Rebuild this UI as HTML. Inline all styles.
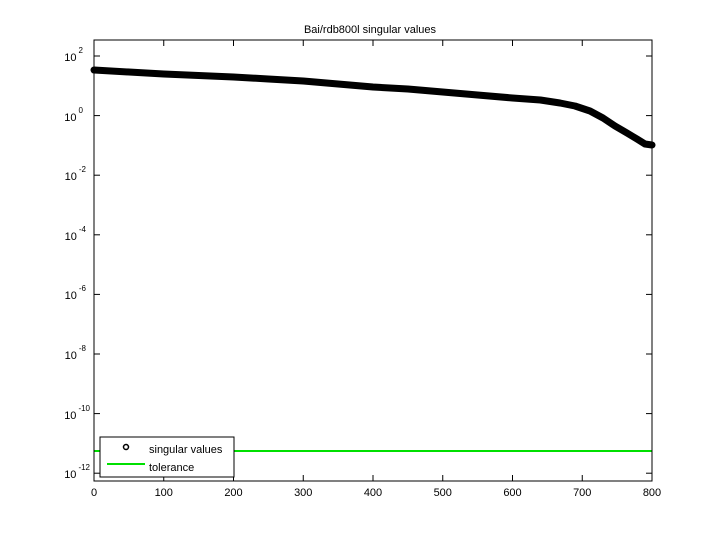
<!DOCTYPE html>
<html><head><style>body{margin:0;background:#fff}svg{display:block}text{font-family:"Liberation Sans",sans-serif;font-size:11px;fill:#000}.s{font-size:8px}</style></head><body>
<svg width="720" height="540" viewBox="0 0 720 540">
<rect width="720" height="540" fill="#fff"/>
<text x="370" y="33" text-anchor="middle">Bai/rdb800l singular values</text>
<line x1="94" y1="451" x2="652" y2="451" stroke="#00e000" stroke-width="2"/>
<polyline fill="none" stroke="#000" stroke-width="7" stroke-linecap="round" stroke-linejoin="round" points="94,70 128.9,72 163.75,74 198.6,75.5 233.5,77 268.4,79 303.25,81 338.1,84 373,87 407.9,89 442.75,92 477.6,95 512.5,98 540.4,100 560,103 575,106 590,111 603,118 615,126 627,133 637,139 645,144 652,145"/>
<rect x="94" y="40" width="558" height="441" fill="none" stroke="#000" stroke-width="1"/>
<g stroke="#000">
<line x1="94" y1="56" x2="100" y2="56"/><line x1="652" y1="56" x2="646" y2="56"/>
<line x1="94" y1="115.6" x2="100" y2="115.6"/><line x1="652" y1="115.6" x2="646" y2="115.6"/>
<line x1="94" y1="175.2" x2="100" y2="175.2"/><line x1="652" y1="175.2" x2="646" y2="175.2"/>
<line x1="94" y1="234.8" x2="100" y2="234.8"/><line x1="652" y1="234.8" x2="646" y2="234.8"/>
<line x1="94" y1="294.4" x2="100" y2="294.4"/><line x1="652" y1="294.4" x2="646" y2="294.4"/>
<line x1="94" y1="354" x2="100" y2="354"/><line x1="652" y1="354" x2="646" y2="354"/>
<line x1="94" y1="413.6" x2="100" y2="413.6"/><line x1="652" y1="413.6" x2="646" y2="413.6"/>
<line x1="94" y1="473.2" x2="100" y2="473.2"/><line x1="652" y1="473.2" x2="646" y2="473.2"/>
<line x1="163.75" y1="481" x2="163.75" y2="475"/><line x1="163.75" y1="40" x2="163.75" y2="46"/>
<line x1="233.5" y1="481" x2="233.5" y2="475"/><line x1="233.5" y1="40" x2="233.5" y2="46"/>
<line x1="303.25" y1="481" x2="303.25" y2="475"/><line x1="303.25" y1="40" x2="303.25" y2="46"/>
<line x1="373" y1="481" x2="373" y2="475"/><line x1="373" y1="40" x2="373" y2="46"/>
<line x1="442.75" y1="481" x2="442.75" y2="475"/><line x1="442.75" y1="40" x2="442.75" y2="46"/>
<line x1="512.5" y1="481" x2="512.5" y2="475"/><line x1="512.5" y1="40" x2="512.5" y2="46"/>
<line x1="582.25" y1="481" x2="582.25" y2="475"/><line x1="582.25" y1="40" x2="582.25" y2="46"/>
</g>
<g text-anchor="end">
<text x="83" y="61">10<tspan class="s" dx="2" dy="-8">2</tspan></text>
<text x="83" y="121">10<tspan class="s" dx="2" dy="-8">0</tspan></text>
<text x="86" y="180">10<tspan class="s" dx="2" dy="-8">-2</tspan></text>
<text x="86" y="240">10<tspan class="s" dx="2" dy="-8">-4</tspan></text>
<text x="86" y="299">10<tspan class="s" dx="2" dy="-8">-6</tspan></text>
<text x="86" y="359">10<tspan class="s" dx="2" dy="-8">-8</tspan></text>
<text x="90" y="419">10<tspan class="s" dx="2" dy="-8">-10</tspan></text>
<text x="90" y="478">10<tspan class="s" dx="2" dy="-8">-12</tspan></text>
</g>
<g text-anchor="middle">
<text x="94" y="496">0</text><text x="163.75" y="496">100</text><text x="233.5" y="496">200</text><text x="303.25" y="496">300</text><text x="373" y="496">400</text><text x="442.75" y="496">500</text><text x="512.5" y="496">600</text><text x="582.25" y="496">700</text><text x="652" y="496">800</text>
</g>
<rect x="100" y="437" width="134" height="40" fill="#fff" stroke="#000"/>
<circle cx="126" cy="447" r="2.5" fill="none" stroke="#000" stroke-width="1.5"/>
<text x="149" y="453">singular values</text>
<line x1="107" y1="464" x2="145" y2="464" stroke="#00e000" stroke-width="2"/>
<text x="149" y="471">tolerance</text>
</svg>
</body></html>
